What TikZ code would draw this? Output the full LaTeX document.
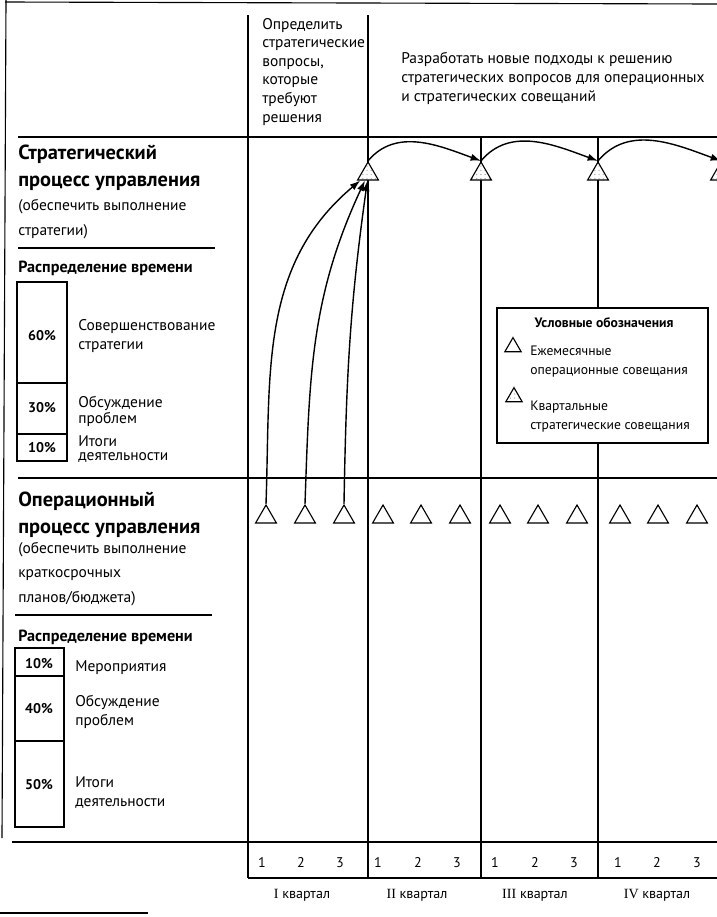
\documentclass[tikz,border=0pt]{standalone}
\usepackage{fontspec}
\setmainfont{PT Sans}
\newfontfamily\romfont{Liberation Serif}
\usetikzlibrary{positioning,arrows.meta,shapes.geometric,patterns}
\tikzset{
  gridline/.style={line width=0.8pt},
  flowarrow/.style={-{Latex[length=2.6mm,width=1.8mm]}, line width=1pt},
  opmeet/.style={draw, regular polygon, regular polygon sides=3, minimum size=0.6cm, inner sep=0pt, fill=white, line width=0.8pt},
  stmeet/.style={opmeet, preaction={fill=white}, pattern=dots, pattern color=gray!70},
  keymeet/.style={minimum size=0.47cm},
  plaintext/.style={font=\fontsize{11}{13.2}\selectfont, align=left, inner sep=0pt, anchor=base west},
  titletext/.style={font=\fontsize{14.5}{18.5}\selectfont\bfseries, align=left, inner sep=0pt, anchor=base west},
  subtext/.style={font=\fontsize{11}{17.2}\selectfont, align=left, inner sep=0pt, anchor=base west},
  headtext/.style={font=\fontsize{11.5}{13}\selectfont\bfseries, inner sep=0pt, anchor=base west},
  pcttext/.style={font=\fontsize{10}{12}\selectfont\bfseries, inner sep=0pt},
  sidetext/.style={font=\fontsize{11}{9.5}\selectfont, align=left, inner sep=0pt, anchor=base west},
  keytext/.style={font=\fontsize{9.7}{13.5}\selectfont, align=left, inner sep=0pt, anchor=base west},
  axistext/.style={font=\fontsize{10}{12}\selectfont, inner sep=0pt, anchor=base}
}
\begin{document}
\begin{tikzpicture}[x=0.025cm, y=0.025cm]
  \clip (0,0) rectangle (717,-917);
  % frame and grid
  \draw[gridline] (5,-2) -- (717,-4);
  \draw[gridline] (6,0) -- (2,-838);
  \draw[gridline] (18,-137) -- (717,-137);
  \draw[gridline] (18,-478) -- (717,-478);
  \draw[gridline] (12,-842) -- (717,-842);
  \draw[gridline] (248,-878) -- (717,-878);
  \draw[gridline] (248,-15) -- (248,-878);
  \draw[gridline] (368,-15) -- (368,-878);
  \draw[gridline] (481,-137) -- (481,-878);
  \draw[gridline] (598,-137) -- (598,-878);
  \draw[gridline] (18,-248) -- (215,-248);
  \draw[gridline] (15,-615) -- (212,-615);
  \draw[gridline] (0,-913) -- (148,-913);

  % header texts (base = last line)
  \node[plaintext] (askq) at (262,-122) {Определить\\стратегические\\вопросы,\\которые\\требуют\\решения};
  \node[plaintext] (newway) at (401,-101) {Разработать новые подходы к решению\\стратегических вопросов для операционных\\и стратегических совещаний};

  % strategic process
  \node[titletext] (sttitle) at (18,-186) {Стратегический\\процесс управления};
  \node[subtext] (stsub) at (18,-235) {(обеспечить выполнение\\стратегии)};
  \node[headtext] (sthead) at (18,-272) {Распределение времени};
  \draw[gridline] (17,-282) rectangle (67,-461);
  \draw[gridline] (17,-383) -- (67,-383);
  \draw[gridline] (17,-434) -- (67,-434);
  \node[pcttext] (st60) at (42,-336) {60\%};
  \node[pcttext] (st30) at (42,-408) {30\%};
  \node[pcttext] (st10) at (42,-448) {10\%};
  \node[plaintext] (st60txt) at (78,-349) {Совершенствование\\стратегии};
  \node[sidetext] (st30txt) at (78,-423) {Обсуждение\\проблем};
  \node[sidetext] (st10txt) at (78,-460) {Итоги\\деятельности};

  % operational process
  \node[titletext] (optitle) at (18,-533) {Операционный\\процесс управления};
  \node[subtext] (opsub) at (18,-602) {(обеспечить выполнение\\краткосрочных\\планов/бюджета)};
  \node[headtext] (ophead) at (18,-641) {Распределение времени};
  \draw[gridline] (15,-648) rectangle (64,-827);
  \draw[gridline] (15,-676) -- (64,-676);
  \draw[gridline] (15,-741) -- (64,-741);
  \node[pcttext] (op10) at (39,-664) {10\%};
  \node[pcttext] (op40) at (39,-709) {40\%};
  \node[pcttext] (op50) at (39,-785) {50\%};
  \node[plaintext] (op10txt) at (75,-671) {Мероприятия};
  \node[plaintext] (op40txt) at (75,-725) {Обсуждение\\проблем};
  \node[plaintext] (op50txt) at (75,-806) {Итоги\\деятельности};

  % meetings
  \node[stmeet] (st1) at (368,-174) {};
  \node[stmeet] (st2) at (481,-174) {};
  \node[stmeet] (st3) at (598,-174) {};
  \node[stmeet] (st4) at (721,-174) {};
  \node[opmeet] (op1) at (266,-517) {};
  \node[opmeet] (op2) at (305,-517) {};
  \node[opmeet] (op3) at (344,-517) {};
  \node[opmeet] (op4) at (383,-517) {};
  \node[opmeet] (op5) at (421,-517) {};
  \node[opmeet] (op6) at (460,-517) {};
  \node[opmeet] (op7) at (500,-517) {};
  \node[opmeet] (op8) at (538,-517) {};
  \node[opmeet] (op9) at (577,-517) {};
  \node[opmeet] (op10) at (620,-517) {};
  \node[opmeet] (op11) at (658,-517) {};
  \node[opmeet] (op12) at (697,-517) {};
  \draw[flowarrow] (op1.north) to[out=88, in=220] (st1.220);
  \draw[flowarrow] (op2.north) to[out=88, in=245] (st1.245);
  \draw[flowarrow] (op3.north) to[out=89, in=262] (st1.265);
  \draw[flowarrow] (st1.north) to[out=50, in=160] (st2.north);
  \draw[flowarrow] (st2.north) to[out=50, in=160] (st3.north);
  \draw[flowarrow] (st3.north) to[out=50, in=160] (st4.north);

  % legend
  \draw[gridline, fill=white] (497,-308) rectangle (708,-443);
  \node[keytext, font=\fontsize{9.7}{12}\selectfont\bfseries, anchor=base] (keytitle) at (604,-327) {Условные обозначения};
  \node[opmeet, keymeet] (keyop) at (513,-347) {};
  \node[stmeet, keymeet] (keyst) at (514,-397) {};
  \node[keytext] (keyoptxt) at (530,-374) {Ежемесячные\\операционные совещания};
  \node[keytext] (keysttxt) at (530,-429) {Квартальные\\стратегические совещания};

  % months and quarters
  \node[axistext] (m1) at (262,-867) {1};
  \node[axistext] (m2) at (301,-867) {2};
  \node[axistext] (m3) at (340,-867) {3};
  \node[axistext] (m4) at (378,-867) {1};
  \node[axistext] (m5) at (418,-867) {2};
  \node[axistext] (m6) at (457,-867) {3};
  \node[axistext] (m7) at (495,-867) {1};
  \node[axistext] (m8) at (535,-867) {2};
  \node[axistext] (m9) at (574,-867) {3};
  \node[axistext] (m10) at (618,-867) {1};
  \node[axistext] (m11) at (657,-867) {2};
  \node[axistext] (m12) at (697,-867) {3};
  \node[axistext] (q1) at (302,-898) {{\romfont I} квартал};
  \node[axistext] (q2) at (417,-898) {{\romfont II} квартал};
  \node[axistext] (q3) at (535,-898) {{\romfont III} квартал};
  \node[axistext] (q4) at (657,-898) {{\romfont IV} квартал};
\end{tikzpicture}
\end{document}
